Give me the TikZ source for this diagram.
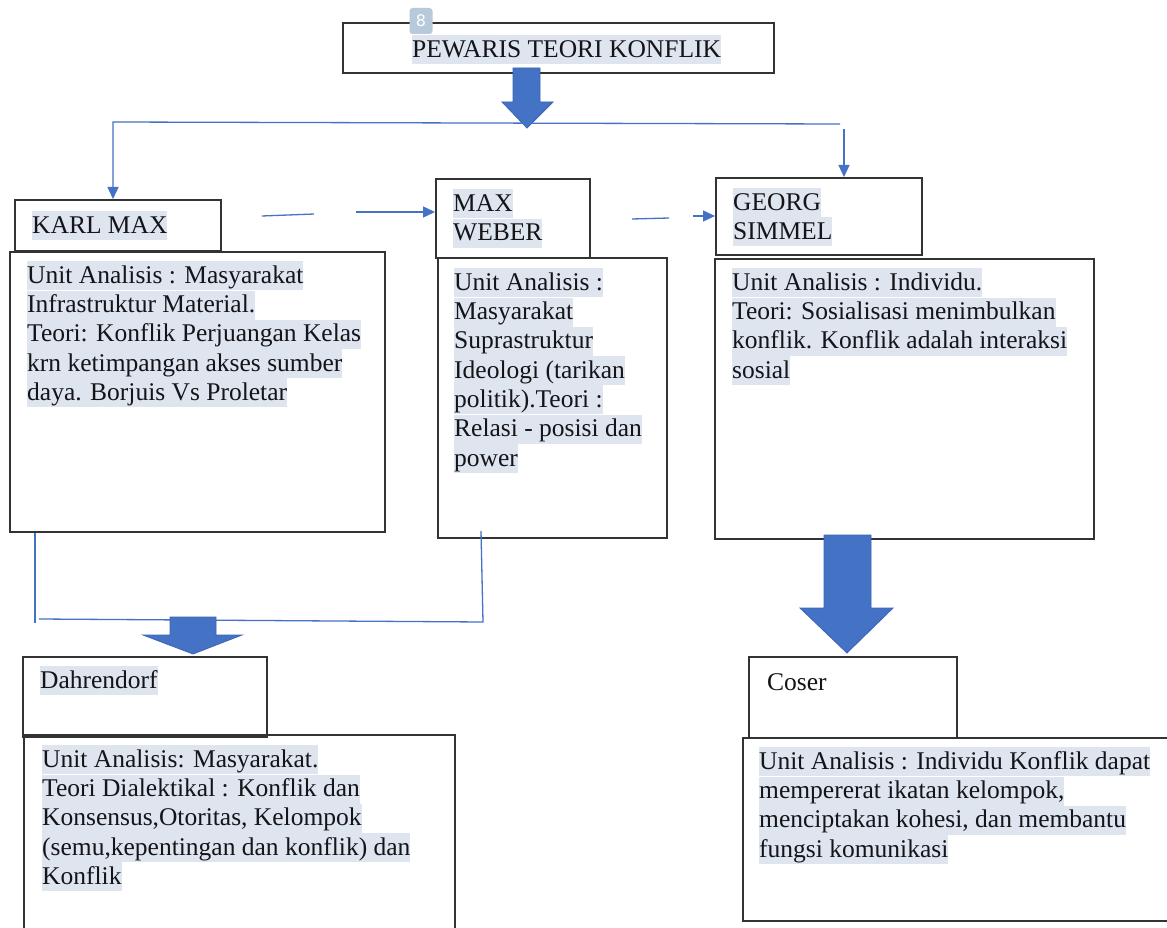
\documentclass[tikz,border=0pt]{standalone}
\usepackage{fontspec}
\setmainfont{Liberation Serif}
\newfontfamily\badgefont{DejaVu Sans}
\usetikzlibrary{arrows.meta}
\definecolor{hlc}{RGB}{222,229,238}
\definecolor{ofblue}{RGB}{68,114,196}
\definecolor{ofbluedk}{RGB}{58,100,180}
\definecolor{txt}{RGB}{20,20,25}
\definecolor{badgec}{RGB}{183,201,218}
\newcommand{\hlt}[1]{{\setlength{\fboxsep}{0pt}\colorbox{hlc}{\rule[-7pt]{0pt}{29pt}#1}}}
\newcommand{\nohl}[1]{\rule[-7pt]{0pt}{29pt}#1}
\tikzset{
  boxc/.style={draw=black!80, line width=1.6pt, rectangle, inner sep=0pt, anchor=north west},
  txtc/.style={anchor=north west, inner sep=0pt, align=left, text=txt, font=\fontsize{25.5}{29.3}\selectfont},
  conn/.style={draw=ofblue, line width=1.3pt},
  connarr/.style={conn, -{Triangle[length=12pt,width=11pt]}},
  blockarrow/.style={fill=ofblue, draw=ofbluedk, line width=0.8pt, line join=miter},
  badge/.style={fill=badgec, rounded corners=3pt, minimum width=23pt, minimum height=26pt, inner sep=0pt, text=white, font=\badgefont\fontsize{16}{16}\selectfont}
}
\begin{document}
\begin{tikzpicture}[x=1pt,y=-1pt]
\useasboundingbox (0,0) rectangle (1167,928);
\clip (0,0) rectangle (1167,928);
\fill[white] (0,0) rectangle (1167,928);

% title
\node[boxc, minimum width=431pt, minimum height=50pt] (title) at (342,22) {};
\node[txtc] (titletxt) at (412,35) {\hlt{PEWARIS TEORI KONFLIK}};
\node[badge] (pg) at (421,21) {8};

% top block arrow
\draw[blockarrow] (513,68) -- (540,68) -- (540,102) -- (553,102) -- (527,128) -- (502,102) -- (513,102) -- cycle;

% level 1 boxes
\node[boxc, minimum width=206pt, minimum height=51pt] (karl) at (14,199) {};
\node[txtc] (karltxt) at (32,211) {\hlt{KARL MAX}};
\node[boxc, minimum width=375pt, minimum height=280pt] (karlbody) at (9,251) {};
\node[txtc] (karlbodytxt) at (27,261) {\hlt{Unit Analisis : Masyarakat}\\\hlt{Infrastruktur Material.}\\\hlt{Teori: Konflik Perjuangan Kelas}\\\hlt{krn ketimpangan akses sumber}\\\hlt{daya. Borjuis Vs Proletar}};

\node[boxc, minimum width=154pt, minimum height=79pt] (maxw) at (435,178) {};
\node[txtc] (maxwtxt) at (453,189) {\hlt{MAX}\\\hlt{WEBER}};
\node[boxc, minimum width=229pt, minimum height=280pt] (maxbody) at (437,257) {};
\node[txtc] (maxbodytxt) at (454,268) {\hlt{Unit Analisis :}\\\hlt{Masyarakat}\\\hlt{Suprastruktur}\\\hlt{Ideologi (tarikan}\\\hlt{politik).Teori :}\\\hlt{Relasi - posisi dan}\\\hlt{power}};

\node[boxc, minimum width=206pt, minimum height=77pt] (georg) at (715,177) {};
\node[txtc] (georgtxt) at (733,188) {\hlt{GEORG}\\\hlt{SIMMEL}};
\node[boxc, minimum width=379pt, minimum height=280pt] (georgbody) at (714,258) {};
\node[txtc] (georgbodytxt) at (732,268) {\hlt{Unit Analisis : Individu.}\\\hlt{Teori: Sosialisasi menimbulkan}\\\hlt{konflik. Konflik adalah interaksi}\\\hlt{sosial}};

% connectors top
\coordinate (tl) at (113,122);
\coordinate (tr) at (840,124);
\draw[connarr] (tr) -- (tl) -- (tl |- karl.north);
\coordinate (g1) at (844,129);
\draw[connarr] (g1) -- (g1 |- georg.north);

% Karl -> Max
\coordinate (k1) at (262,216);
\coordinate (k2) at (314,214);
\draw[conn] (k1) -- (k2);
\coordinate (k3) at (356,212);
\draw[connarr] (k3) -- (k3 -| maxw.west);

% Max -> Georg
\coordinate (m1) at (632,219);
\coordinate (m2) at (669,218);
\draw[conn] (m1) -- (m2);
\coordinate (m3) at (693,216);
\draw[connarr] (m3) -- (m3 -| georg.west);

% bottom left connectors
\coordinate (lb) at (35,623);
\draw[conn] (lb |- karlbody.south) -- (lb);
\coordinate (hl) at (39,619);
\coordinate (hr) at (483,622);
\coordinate (rt) at (481,531);
\draw[conn] (hl) -- (hr) -- (rt);

% Dahrendorf arrow
\draw[blockarrow] (170,617) -- (216,617) -- (216,635) -- (242,635) -- (193,654) -- (143,635) -- (170,635) -- cycle;

% Coser arrow
\draw[blockarrow] (824,535) -- (871,535) -- (871,608) -- (893,608) -- (847,653) -- (800,608) -- (824,608) -- cycle;

% Dahrendorf
\node[boxc, minimum width=244pt, minimum height=80pt] (dahr) at (22,656) {};
\node[txtc] (dahrtxt) at (40,666) {\hlt{Dahrendorf}};
\node[boxc, minimum width=431pt, minimum height=220pt] (dahrbody) at (23,734) {};
\node[txtc] (dahrbodytxt) at (42,745) {\hlt{Unit Analisis: Masyarakat.}\\\hlt{Teori Dialektikal : Konflik dan}\\\hlt{Konsensus,Otoritas, Kelompok}\\\hlt{(semu,kepentingan dan konflik) dan}\\\hlt{Konflik}};

% Coser
\node[boxc, minimum width=208pt, minimum height=81pt] (coser) at (748,656) {};
\node[txtc] (cosertxt) at (767,668) {\nohl{Coser}};
\node[boxc, minimum width=440pt, minimum height=183pt] (coserbody) at (742,737) {};
\node[txtc] (coserbodytxt) at (759,747) {\hlt{Unit Analisis : Individu Konflik dapat}\\\hlt{mempererat ikatan kelompok,}\\\hlt{menciptakan kohesi, dan membantu}\\\hlt{fungsi komunikasi}};
\end{tikzpicture}
\end{document}
